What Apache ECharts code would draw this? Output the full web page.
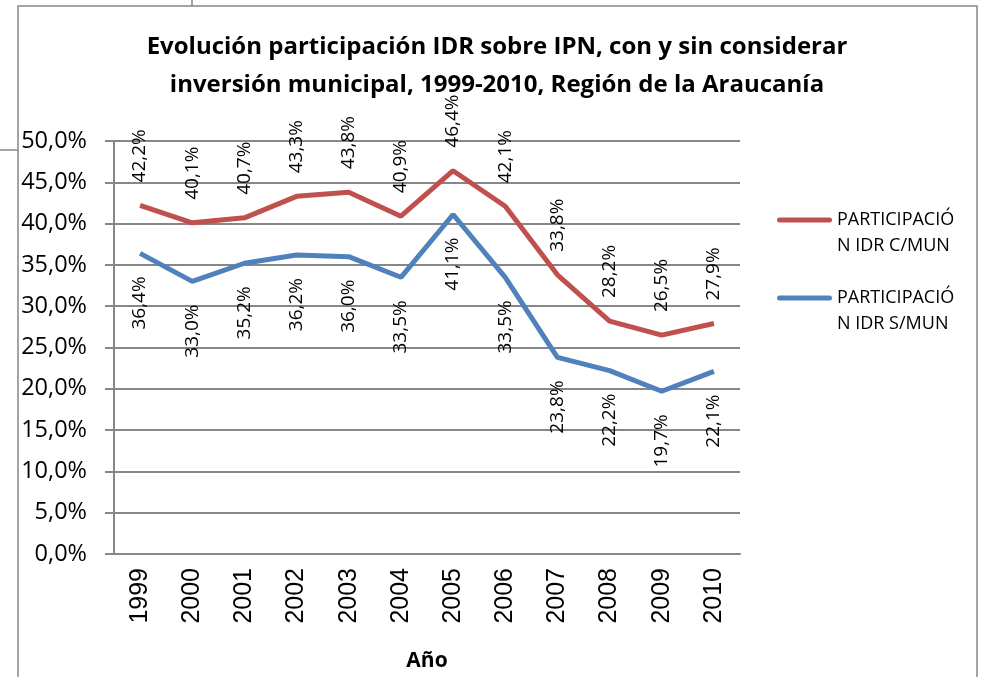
<!DOCTYPE html>
<html>
<head>
<meta charset="utf-8">
<script src="https://cdn.jsdelivr.net/npm/echarts@6/dist/echarts.min.js"></script>
<style>
  html, body { margin: 0; padding: 0; background: #fff; }
  #chart { width: 983px; height: 677px; }
</style>
</head>
<body>
<div id="chart"></div>
<script>
// datos
const years = ['1999','2000','2001','2002','2003','2004','2005','2006','2007','2008','2009','2010'];
const conMun = [42.2, 40.1, 40.7, 43.3, 43.8, 40.9, 46.4, 42.1, 33.8, 28.2, 26.5, 27.9];
const sinMun = [36.4, 33.0, 35.2, 36.2, 36.0, 33.5, 41.1, 33.5, 23.8, 22.2, 19.7, 22.1];
const seriesNames = ['PARTICIPACIÓN IDR C/MUN', 'PARTICIPACIÓN IDR S/MUN'];

const fmt = v => v.toFixed(1).replace('.', ',') + '%';
const gray = '#878787';
const font = '"Open Sans", "Noto Sans", sans-serif';

const chart = echarts.init(document.getElementById('chart'));
chart.setOption({
  animation: false,
  backgroundColor: '#fff',
  title: {
    text: 'Evolución participación IDR sobre IPN, con y sin considerar\ninversión municipal, 1999-2010, Región de la Araucanía',
    left: 497,
    top: 28,
    padding: 0,
    textAlign: 'center',
    textStyle: { fontFamily: font, fontSize: 24, fontWeight: 'bold', color: '#000', lineHeight: 38 }
  },
  grid: { left: 114, width: 626, top: 141, height: 420 },
  legend: {
    orient: 'vertical',
    left: 777,
    top: 181,
    padding: 0,
    itemGap: 0,
    itemWidth: 55,
    itemHeight: 5,
    icon: 'path://M2.5,0 H52.5 A2.5,2.5 0 0 1 52.5,5 H2.5 A2.5,2.5 0 0 1 2.5,0 Z',
    formatter: name => ' \n' + name.slice(0, 12) + '\n' + name.slice(12),
    textStyle: { fontFamily: font, fontSize: 18, color: '#000', lineHeight: 26 },
    data: seriesNames
  },
  xAxis: {
    type: 'category',
    data: years,
    name: 'Año',
    nameLocation: 'middle',
    nameGap: 97,
    nameTextStyle: { fontFamily: font, fontSize: 21, fontWeight: 'bold', color: '#000' },
    axisLine: { lineStyle: { color: gray, width: 2 } },
    axisTick: { show: false },
    axisLabel: { rotate: 90, margin: 14, fontFamily: '"Liberation Sans", Arial, sans-serif', fontSize: 25, color: '#000' }
  },
  yAxis: {
    type: 'value',
    min: 0,
    max: 50,
    interval: 5,
    axisLine: { show: true, lineStyle: { color: gray, width: 2 } },
    axisTick: { show: true, length: 9, lineStyle: { color: gray, width: 2 } },
    splitLine: { lineStyle: { color: gray, width: 2 } },
    axisLabel: { margin: 27, fontFamily: font, fontSize: 23.5, color: '#000', formatter: fmt }
  },
  series: [
    {
      name: seriesNames[0],
      type: 'line',
      data: conMun,
      symbol: 'circle',
      symbolSize: 0,
      showSymbol: true,
      color: '#C0504D',
      lineStyle: { width: 5, color: '#C0504D' },
      label: {
        show: true, position: 'top', distance: 23, rotate: 90,
        align: 'left', verticalAlign: 'middle',
        fontFamily: font, fontSize: 19, color: '#000',
        formatter: p => fmt(p.value)
      }
    },
    {
      name: seriesNames[1],
      type: 'line',
      data: sinMun,
      symbol: 'circle',
      symbolSize: 0,
      showSymbol: true,
      color: '#4F81BD',
      lineStyle: { width: 5, color: '#4F81BD' },
      label: {
        show: true, position: 'bottom', distance: 23, rotate: 90,
        align: 'right', verticalAlign: 'middle',
        fontFamily: font, fontSize: 19, color: '#000',
        formatter: p => fmt(p.value)
      }
    }
  ],
  graphic: [
    { type: 'rect', shape: { x: 18, y: 6, width: 959, height: 700 }, style: { fill: 'none', stroke: gray, lineWidth: 1.5 }, silent: true },
    { type: 'line', shape: { x1: 192, y1: 0, x2: 192, y2: 6 }, style: { stroke: gray, lineWidth: 1.5 }, silent: true },
    { type: 'line', shape: { x1: 0, y1: 150, x2: 18, y2: 150 }, style: { stroke: gray, lineWidth: 1.5 }, silent: true }
  ]
});
</script>
</body>
</html>
